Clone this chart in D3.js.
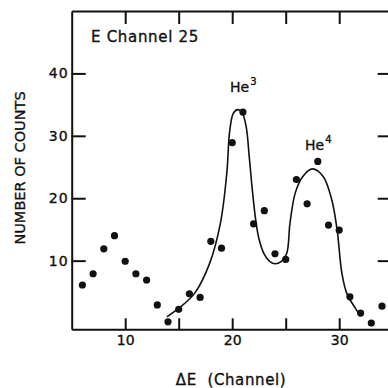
<!DOCTYPE html>
<html>
<head>
<meta charset="utf-8">
<script src="https://cdn.jsdelivr.net/npm/d3@7"></script>
<style>
  body { margin: 0; background: #fff; }
  text { font-family: "DejaVu Sans", sans-serif; fill: #111; }
  .lbl { stroke: #111; stroke-width: 0.35px; }
</style>
</head>
<body>
<div id="wrapper"></div>
<script>
// measured counts per channel (dots)
const channels = [6, 7, 8, 9, 10, 11, 12, 13, 14, 15, 16, 17, 18, 19, 20,
                  21, 22, 23, 24, 25, 26, 27, 28, 29, 30, 31, 32, 33, 34];
const counts = [6.1, 7.9, 11.9, 14.0, 9.9, 7.9, 6.9, 2.9, 0.2, 2.2, 4.7, 4.1, 13.1, 12.0, 28.9,
                33.8, 15.9, 18.0, 11.1, 10.2, 23.0, 19.1, 25.9, 15.7, 14.9, 4.2, 1.6, 0.0, 2.7];

// hand-drawn fit curve through the two helium peaks
const fitX = [13.9, 15.1, 16.5, 17.9, 18.9, 19.5, 19.75, 20.1, 20.5, 20.9, 21.3, 21.6, 21.9,
              22.2, 22.5, 23.0, 23.5, 24.0, 24.6, 25.1, 25.4, 25.9, 26.6, 27.5, 28.5, 29.3,
              29.8, 30.25, 30.7, 31.5, 32.0];
const fitY = [1.0, 2.5, 4.8, 9.6, 16.0, 24.1, 30.5, 33.6, 34.2, 33.8, 31.5, 26.5, 21.0,
              16.5, 13.5, 11.0, 9.9, 9.5, 9.9, 11.2, 16.0, 20.9, 23.5, 24.7, 23.5, 19.8,
              15.0, 8.0, 4.8, 2.4, 1.1];

const xTicks = [10, 15, 20, 25, 30];
const xTickLabels = [10, 20, 30];
const yTicks = [10, 20, 30, 40];

const width = 388, height = 388;

const svg = d3.select("#wrapper")
  .append("svg")
  .attr("width", width)
  .attr("height", height);

const x = d3.scaleLinear().domain([5, 35]).range([71.7, 392.7]);
const y = d3.scaleLinear().domain([-1, 50]).range([329.3, 11]);

// axes: ticks point into the frame
const leftAxis = svg.append("g")
  .attr("transform", `translate(${x(5)},0)`)
  .call(d3.axisLeft(y).tickValues(yTicks).tickSizeInner(-14).tickSizeOuter(0).tickPadding(3));

svg.append("g")
  .attr("transform", `translate(0,${y(-1)})`)
  .call(d3.axisBottom(x).tickValues(xTicks).tickSizeInner(-11).tickSizeOuter(0).tickPadding(6)
    .tickFormat(d => xTickLabels.includes(d) ? d : ""));

svg.append("g")
  .attr("transform", `translate(0,${y(50)})`)
  .call(d3.axisTop(x).tickValues(xTicks).tickSizeInner(-13).tickSizeOuter(0).tickFormat(""));

svg.append("g")
  .attr("transform", `translate(${x(35)},0)`)
  .call(d3.axisRight(y).tickValues(yTicks).tickSizeInner(-15).tickSizeOuter(0).tickFormat(""));

svg.selectAll(".domain, .tick line")
  .attr("stroke", "#111")
  .attr("stroke-width", 2);

svg.selectAll(".tick text")
  .attr("class", "lbl")
  .style("font-size", "14px")
  .attr("fill", "#111");

leftAxis.selectAll(".tick text").attr("letter-spacing", "1px");

// fit line
const line = d3.line()
  .x((d, i) => x(fitX[i]))
  .y((d, i) => y(fitY[i]))
  .curve(d3.curveCatmullRom.alpha(0.5));

svg.append("path")
  .datum(fitX)
  .attr("d", line)
  .attr("fill", "none")
  .attr("stroke", "#111")
  .attr("stroke-width", 1.6);

// data dots
svg.selectAll(".dot")
  .data(channels)
  .enter()
  .append("circle")
  .attr("class", "dot")
  .attr("cx", d => x(d))
  .attr("cy", (d, i) => y(counts[i]))
  .attr("r", 3.6)
  .attr("fill", "#111");

// labels
svg.append("text")
  .attr("class", "lbl")
  .attr("x", 91)
  .attr("y", 41.7)
  .attr("letter-spacing", "0.7px")
  .style("font-size", "15px")
  .text("E Channel 25");

function heLabel(px, py, sup) {
  const t = svg.append("text")
    .attr("class", "lbl")
    .attr("x", px)
    .attr("y", py)
    .style("font-size", "14px");
  t.append("tspan").text("He");
  t.append("tspan")
    .attr("dy", -7)
    .attr("dx", 1)
    .style("font-size", "10px")
    .text(sup);
}
heLabel(230, 92, "3");
heLabel(305, 150, "4");

svg.append("text")
  .attr("class", "lbl")
  .attr("x", 231)
  .attr("y", 385)
  .attr("text-anchor", "middle")
  .attr("letter-spacing", "0.6px")
  .style("white-space", "pre")
  .style("font-size", "15px")
  .text("ΔE  (Channel)");

svg.append("text")
  .attr("class", "lbl")
  .attr("transform", "translate(24.5,168) rotate(-90)")
  .attr("text-anchor", "middle")
  .style("font-size", "14.5px")
  .text("NUMBER OF COUNTS");
</script>
</body>
</html>
